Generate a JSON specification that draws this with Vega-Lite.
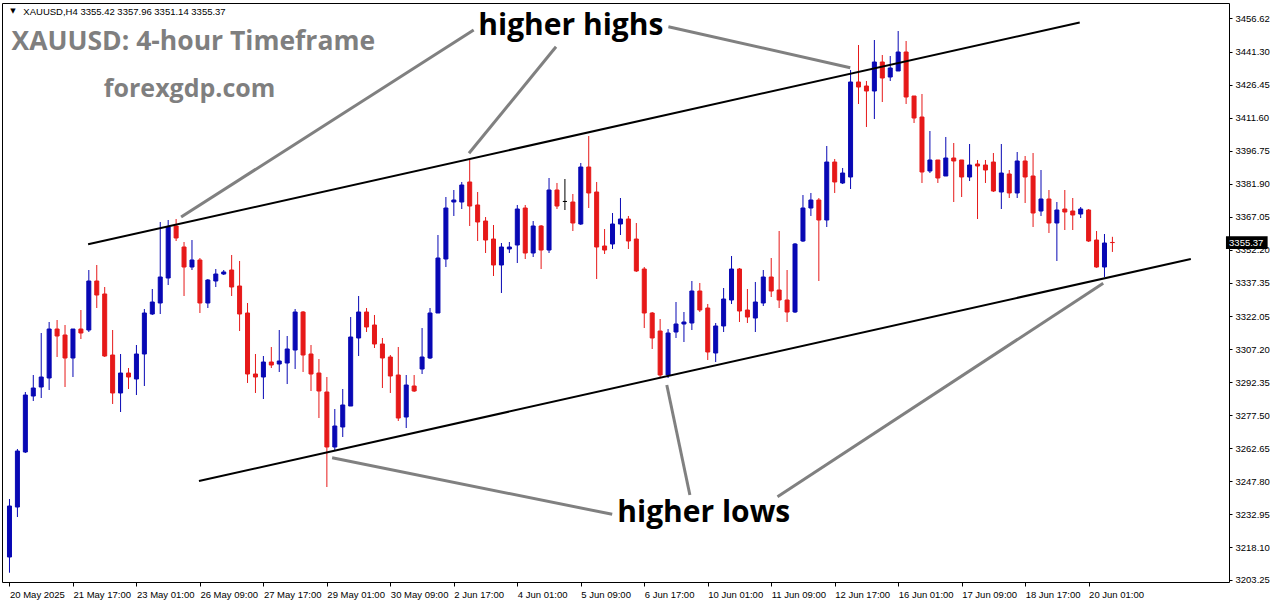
{
"$schema": "https://vega.github.io/schema/vega-lite/v6.json",
"width": 1227, "height": 579,
"autosize": {"type": "none"},
"padding": {"left": 2, "top": 3, "right": 47, "bottom": 22},
"background": "white",
"config": {"view": {"stroke": "#000000", "strokeWidth": 1}, "axis": {"labelOverlap": false, "labelFlush": false}},
"datasets": {
"candles": [
{"i":0,"o":3213.59,"h":3239.74,"l":3206.5,"c":3236.58},
{"i":1,"o":3236.13,"h":3262.29,"l":3231.62,"c":3261.38},
{"i":2,"o":3260.93,"h":3287.99,"l":3260.48,"c":3286.63},
{"i":3,"o":3286.18,"h":3295.65,"l":3283.93,"c":3289.79},
{"i":4,"o":3290.24,"h":3314.59,"l":3285.28,"c":3294.75},
{"i":5,"o":3294.30,"h":3319.55,"l":3288.89,"c":3316.39},
{"i":6,"o":3316.39,"h":3320.45,"l":3303.77,"c":3313.24},
{"i":7,"o":3313.69,"h":3318.20,"l":3290.24,"c":3303.32},
{"i":8,"o":3303.32,"h":3316.39,"l":3294.75,"c":3316.39},
{"i":9,"o":3316.39,"h":3324.96,"l":3311.88,"c":3314.59},
{"i":10,"o":3315.94,"h":3343.00,"l":3315.04,"c":3338.04},
{"i":11,"o":3338.04,"h":3345.25,"l":3325.86,"c":3331.72},
{"i":12,"o":3332.18,"h":3335.33,"l":3303.77,"c":3304.22},
{"i":13,"o":3304.67,"h":3315.94,"l":3282.58,"c":3287.54},
{"i":14,"o":3287.54,"h":3305.12,"l":3278.97,"c":3296.55},
{"i":15,"o":3296.55,"h":3298.81,"l":3289.34,"c":3294.75},
{"i":16,"o":3293.85,"h":3309.18,"l":3286.63,"c":3305.12},
{"i":17,"o":3305.12,"h":3325.41,"l":3290.69,"c":3323.61},
{"i":18,"o":3323.16,"h":3334.43,"l":3322.71,"c":3328.57},
{"i":19,"o":3328.12,"h":3364.64,"l":3323.16,"c":3339.84},
{"i":20,"o":3339.39,"h":3365.54,"l":3336.23,"c":3362.39},
{"i":21,"o":3362.84,"h":3365.99,"l":3356.07,"c":3357.43},
{"i":22,"o":3353.37,"h":3355.62,"l":3331.27,"c":3344.35},
{"i":23,"o":3344.35,"h":3356.52,"l":3343.00,"c":3347.51},
{"i":24,"o":3347.51,"h":3348.41,"l":3323.61,"c":3328.12},
{"i":25,"o":3328.12,"h":3338.94,"l":3325.86,"c":3338.49},
{"i":26,"o":3338.04,"h":3343.45,"l":3335.33,"c":3341.19},
{"i":27,"o":3341.19,"h":3343.00,"l":3340.74,"c":3342.10},
{"i":28,"o":3343.00,"h":3349.76,"l":3331.27,"c":3335.33},
{"i":29,"o":3335.78,"h":3347.06,"l":3315.49,"c":3323.16},
{"i":30,"o":3323.61,"h":3328.12,"l":3292.05,"c":3296.10},
{"i":31,"o":3296.10,"h":3305.12,"l":3287.54,"c":3294.75},
{"i":32,"o":3294.75,"h":3304.22,"l":3284.83,"c":3301.51},
{"i":33,"o":3301.51,"h":3308.28,"l":3298.81,"c":3300.16},
{"i":34,"o":3300.61,"h":3315.94,"l":3297.01,"c":3301.97},
{"i":35,"o":3301.06,"h":3313.24,"l":3291.59,"c":3307.38},
{"i":36,"o":3306.92,"h":3325.41,"l":3298.36,"c":3324.06},
{"i":37,"o":3324.06,"h":3324.51,"l":3297.01,"c":3304.67},
{"i":38,"o":3305.12,"h":3309.18,"l":3288.44,"c":3296.10},
{"i":39,"o":3296.55,"h":3302.87,"l":3276.26,"c":3288.44},
{"i":40,"o":3287.99,"h":3294.75,"l":3245.15,"c":3263.19},
{"i":41,"o":3263.19,"h":3280.32,"l":3261.83,"c":3272.66},
{"i":42,"o":3272.21,"h":3289.34,"l":3267.70,"c":3282.13},
{"i":43,"o":3281.67,"h":3321.80,"l":3281.67,"c":3312.79},
{"i":44,"o":3312.34,"h":3331.27,"l":3304.22,"c":3324.06},
{"i":45,"o":3324.06,"h":3325.86,"l":3315.04,"c":3317.30},
{"i":46,"o":3318.20,"h":3322.71,"l":3307.83,"c":3309.63},
{"i":47,"o":3309.63,"h":3312.34,"l":3289.79,"c":3303.32},
{"i":48,"o":3303.77,"h":3304.67,"l":3287.54,"c":3295.20},
{"i":49,"o":3295.65,"h":3308.28,"l":3274.91,"c":3276.26},
{"i":50,"o":3276.71,"h":3295.65,"l":3271.75,"c":3291.14},
{"i":51,"o":3290.69,"h":3295.65,"l":3287.99,"c":3288.44},
{"i":52,"o":3298.36,"h":3316.84,"l":3296.10,"c":3303.77},
{"i":53,"o":3303.32,"h":3325.86,"l":3302.87,"c":3323.61},
{"i":54,"o":3323.61,"h":3358.78,"l":3323.61,"c":3348.41},
{"i":55,"o":3347.96,"h":3375.91,"l":3344.35,"c":3370.95},
{"i":56,"o":3373.66,"h":3379.07,"l":3367.35,"c":3374.56},
{"i":57,"o":3373.66,"h":3382.68,"l":3370.50,"c":3381.32},
{"i":58,"o":3382.68,"h":3392.60,"l":3362.84,"c":3371.85},
{"i":59,"o":3372.31,"h":3378.17,"l":3356.07,"c":3364.64},
{"i":60,"o":3365.09,"h":3366.89,"l":3350.66,"c":3356.52},
{"i":61,"o":3356.97,"h":3363.29,"l":3340.29,"c":3345.25},
{"i":62,"o":3345.25,"h":3355.17,"l":3332.63,"c":3353.37},
{"i":63,"o":3352.47,"h":3355.62,"l":3350.66,"c":3353.37},
{"i":64,"o":3354.27,"h":3372.31,"l":3346.15,"c":3370.50},
{"i":65,"o":3370.95,"h":3372.31,"l":3347.96,"c":3350.66},
{"i":66,"o":3350.66,"h":3365.09,"l":3348.86,"c":3362.84},
{"i":67,"o":3362.84,"h":3363.29,"l":3343.45,"c":3352.01},
{"i":68,"o":3352.01,"h":3384.48,"l":3350.66,"c":3379.07},
{"i":69,"o":3379.07,"h":3382.23,"l":3370.50,"c":3371.85},
{"i":70,"o":3373.90,"h":3384.03,"l":3370.05,"c":3373.90},
{"i":71,"o":3373.66,"h":3377.27,"l":3360.58,"c":3364.19},
{"i":72,"o":3363.74,"h":3391.24,"l":3363.29,"c":3389.44},
{"i":73,"o":3389.44,"h":3403.42,"l":3370.95,"c":3377.72},
{"i":74,"o":3378.17,"h":3382.68,"l":3338.94,"c":3353.37},
{"i":75,"o":3353.82,"h":3361.48,"l":3350.21,"c":3352.01},
{"i":76,"o":3354.72,"h":3368.70,"l":3352.47,"c":3363.74},
{"i":77,"o":3363.74,"h":3375.46,"l":3358.78,"c":3365.99},
{"i":78,"o":3365.99,"h":3367.35,"l":3352.47,"c":3356.07},
{"i":79,"o":3356.97,"h":3364.19,"l":3342.10,"c":3342.55},
{"i":80,"o":3343.45,"h":3344.35,"l":3316.84,"c":3323.61},
{"i":81,"o":3323.61,"h":3324.06,"l":3307.38,"c":3312.34},
{"i":82,"o":3315.49,"h":3320.90,"l":3294.75,"c":3295.65},
{"i":83,"o":3295.65,"h":3316.39,"l":3294.30,"c":3314.59},
{"i":84,"o":3315.04,"h":3328.57,"l":3312.34,"c":3318.65},
{"i":85,"o":3318.65,"h":3324.06,"l":3310.53,"c":3319.55},
{"i":86,"o":3319.10,"h":3338.04,"l":3315.94,"c":3333.53},
{"i":87,"o":3333.53,"h":3337.14,"l":3324.06,"c":3324.96},
{"i":88,"o":3325.86,"h":3327.67,"l":3302.42,"c":3306.02},
{"i":89,"o":3305.57,"h":3319.10,"l":3301.51,"c":3317.75},
{"i":90,"o":3317.75,"h":3334.88,"l":3315.04,"c":3329.92},
{"i":91,"o":3329.47,"h":3349.31,"l":3327.67,"c":3343.45},
{"i":92,"o":3343.45,"h":3343.90,"l":3319.55,"c":3324.51},
{"i":93,"o":3324.96,"h":3334.43,"l":3319.10,"c":3321.80},
{"i":94,"o":3321.35,"h":3337.59,"l":3315.04,"c":3328.57},
{"i":95,"o":3328.12,"h":3343.00,"l":3326.76,"c":3339.84},
{"i":96,"o":3339.84,"h":3348.41,"l":3330.82,"c":3333.53},
{"i":97,"o":3333.98,"h":3360.58,"l":3325.86,"c":3329.47},
{"i":98,"o":3329.47,"h":3343.00,"l":3319.55,"c":3324.06},
{"i":99,"o":3324.06,"h":3355.17,"l":3323.61,"c":3354.72},
{"i":100,"o":3356.07,"h":3376.81,"l":3355.62,"c":3370.95},
{"i":101,"o":3370.95,"h":3377.72,"l":3367.35,"c":3374.56},
{"i":102,"o":3374.56,"h":3375.46,"l":3338.04,"c":3365.54},
{"i":103,"o":3365.54,"h":3398.91,"l":3362.39,"c":3391.69},
{"i":104,"o":3391.69,"h":3393.05,"l":3377.72,"c":3382.68},
{"i":105,"o":3382.23,"h":3388.99,"l":3381.77,"c":3386.73},
{"i":106,"o":3384.93,"h":3433.18,"l":3379.52,"c":3427.77},
{"i":107,"o":3427.77,"h":3444.45,"l":3417.85,"c":3425.51},
{"i":108,"o":3425.96,"h":3428.22,"l":3407.48,"c":3423.71},
{"i":109,"o":3423.71,"h":3446.70,"l":3411.08,"c":3436.78},
{"i":110,"o":3436.78,"h":3439.94,"l":3418.75,"c":3429.57},
{"i":111,"o":3430.02,"h":3439.49,"l":3428.22,"c":3434.08},
{"i":112,"o":3432.73,"h":3450.76,"l":3432.73,"c":3441.29},
{"i":113,"o":3441.29,"h":3446.25,"l":3417.85,"c":3421.00},
{"i":114,"o":3421.45,"h":3421.45,"l":3409.28,"c":3411.53},
{"i":115,"o":3411.98,"h":3422.36,"l":3382.23,"c":3387.19},
{"i":116,"o":3387.64,"h":3405.67,"l":3386.73,"c":3392.60},
{"i":117,"o":3392.60,"h":3392.60,"l":3382.23,"c":3384.48},
{"i":118,"o":3385.38,"h":3402.97,"l":3385.38,"c":3393.50},
{"i":119,"o":3393.50,"h":3400.26,"l":3373.66,"c":3392.15},
{"i":120,"o":3392.60,"h":3392.60,"l":3375.91,"c":3384.93},
{"i":121,"o":3384.93,"h":3399.81,"l":3383.13,"c":3390.34},
{"i":122,"o":3390.79,"h":3392.60,"l":3365.99,"c":3389.89},
{"i":123,"o":3390.34,"h":3392.60,"l":3382.23,"c":3388.09},
{"i":124,"o":3391.69,"h":3395.75,"l":3378.17,"c":3378.62},
{"i":125,"o":3378.17,"h":3399.81,"l":3370.50,"c":3386.73},
{"i":126,"o":3386.28,"h":3388.09,"l":3375.46,"c":3377.72},
{"i":127,"o":3377.72,"h":3396.20,"l":3375.46,"c":3392.15},
{"i":128,"o":3392.15,"h":3394.40,"l":3373.21,"c":3384.93},
{"i":129,"o":3385.38,"h":3395.75,"l":3362.39,"c":3368.70},
{"i":130,"o":3369.60,"h":3388.09,"l":3367.35,"c":3375.01},
{"i":131,"o":3375.01,"h":3379.07,"l":3359.68,"c":3364.19},
{"i":132,"o":3364.19,"h":3373.66,"l":3347.06,"c":3370.05},
{"i":133,"o":3370.50,"h":3379.07,"l":3361.03,"c":3369.15},
{"i":134,"o":3369.60,"h":3375.46,"l":3361.03,"c":3367.80},
{"i":135,"o":3368.25,"h":3371.40,"l":3366.44,"c":3370.50},
{"i":136,"o":3370.05,"h":3370.50,"l":3355.62,"c":3356.07},
{"i":137,"o":3356.52,"h":3360.58,"l":3344.00,"c":3344.35},
{"i":138,"o":3344.35,"h":3359.23,"l":3339.84,"c":3355.17},
{"i":139,"o":3355.42,"h":3357.96,"l":3351.14,"c":3355.37}
],
"trend": [
{"g":"upper","i":9.91,"p":3354.58},{"g":"upper","i":134.88,"p":3454.64},
{"g":"lower","i":23.88,"p":3247.86},{"g":"lower","i":148.88,"p":3347.96}
],
"arrows": [
{"g":"h1","i":58.5,"p":3451.21},{"g":"h1","i":21.63,"p":3366.89},
{"g":"h2","i":68.88,"p":3443.68},{"g":"h2","i":57.91,"p":3395.62},
{"g":"h3","i":83.04,"p":3452.70},{"g":"h3","i":105.96,"p":3434.21},
{"g":"l1","i":40.66,"p":3258.36},{"g":"l1","i":75.96,"p":3232.84},
{"g":"l2","i":82.84,"p":3291.14},{"g":"l2","i":85.75,"p":3241.54},
{"g":"l3","i":96.79,"p":3240.78},{"g":"l3","i":137.84,"p":3337.00}
]
},
"layer": [
{
"data": {"name": "candles"},
"mark": {"type": "rule", "strokeWidth": 1},
"encoding": {
"x": {"field": "i", "type": "quantitative", "scale": {"domain": [-0.3125, 153.0625], "nice": false, "zero": false},
"axis": {"orient": "bottom", "title": null, "grid": false, "domain": false, "tickCount": 40, "values": [0,8,16,24,32,40,48,56,64,72,80,88,96,104,112,120,128,136],
"labelExpr": "['20 May 2025','21 May 17:00','23 May 01:00','26 May 09:00','27 May 17:00','29 May 01:00','30 May 09:00','2 Jun 17:00','4 Jun 01:00','5 Jun 09:00','6 Jun 17:00','10 Jun 01:00','11 Jun 09:00','12 Jun 17:00','16 Jun 01:00','17 Jun 09:00','18 Jun 17:00','20 Jun 01:00'][floor(datum.value/8)]",
"tickSize": 4, "tickColor": "#000000", "labelAlign": "left", "labelBaseline": "top", "labelPadding": 3, "labelFont": "Liberation Sans", "labelFontSize": 9.5, "labelColor": "#000000", "labelOverlap": false, "labelFlush": false}},
"y": {"field": "l", "type": "quantitative", "scale": {"domain": [3202.32, 3463.39], "nice": false, "zero": false},
"axis": {"orient": "right", "title": null, "grid": false, "domain": false, "tickCount": 40, "values": [3456.62,3441.30,3426.45,3411.60,3396.75,3381.90,3367.05,3352.20,3337.35,3322.05,3307.20,3292.35,3277.50,3262.65,3247.80,3232.95,3218.10,3203.25],
"format": ".2f", "tickSize": 3, "tickColor": "#000000", "labelPadding": 3, "labelFont": "Liberation Sans", "labelFontSize": 9.5, "labelColor": "#000000", "labelOverlap": false, "labelFlush": false, "labelBaseline": "middle", "labelAlign": "left"}},
"y2": {"field": "h"},
"color": {"condition": [{"test": "datum.o == datum.c", "value": "#000000"}, {"test": "datum.c > datum.o", "value": "#0808B4"}], "value": "#E61919"}
}
},
{
"mark": {"type": "rule", "color": "#8c8c8c", "strokeWidth": 1},
"encoding": {
"y": {"datum": 3355.37, "type": "quantitative", "title": null, "scale": {"domain": [3202.32, 3463.39], "nice": false, "zero": false}}
}
},
{
"data": {"name": "candles"},
"mark": {"type": "bar", "size": 4, "strokeWidth": 1, "orient": "vertical"},
"encoding": {
"x": {"field": "i", "type": "quantitative", "title": null, "scale": {"domain": [-0.3125, 153.0625], "nice": false, "zero": false}},
"y": {"field": "o", "type": "quantitative", "title": null, "scale": {"domain": [3202.32, 3463.39], "nice": false, "zero": false}},
"y2": {"field": "c"},
"fill": {"condition": [{"test": "datum.o == datum.c", "value": "#000000"}, {"test": "datum.c > datum.o", "value": "#0808B4"}], "value": "#E61919"},
"stroke": {"condition": [{"test": "datum.o == datum.c", "value": "#000000"}, {"test": "datum.c > datum.o", "value": "#0808B4"}], "value": "#E61919"}
}
},
{
"data": {"name": "trend"},
"mark": {"type": "line", "color": "#000000", "strokeWidth": 2},
"encoding": {
"x": {"field": "i", "type": "quantitative", "title": null, "scale": {"domain": [-0.3125, 153.0625], "nice": false, "zero": false}},
"y": {"field": "p", "type": "quantitative", "title": null, "scale": {"domain": [3202.32, 3463.39], "nice": false, "zero": false}},
"detail": {"field": "g"}
}
},
{
"data": {"name": "arrows"},
"mark": {"type": "line", "color": "#808080", "strokeWidth": 3},
"encoding": {
"x": {"field": "i", "type": "quantitative", "title": null, "scale": {"domain": [-0.3125, 153.0625], "nice": false, "zero": false}},
"y": {"field": "p", "type": "quantitative", "title": null, "scale": {"domain": [3202.32, 3463.39], "nice": false, "zero": false}},
"detail": {"field": "g"}
}
},
{
"data": {"values": [{"t": "higher highs", "i": 70.75, "p": 3449.0}, {"t": "higher lows", "i": 87.5, "p": 3229.5}]},
"mark": {"type": "text", "font": "Open Sans", "fontWeight": "bold", "fontSize": 30, "color": "#000000", "align": "center", "baseline": "alphabetic"},
"encoding": {
"x": {"field": "i", "type": "quantitative", "title": null, "scale": {"domain": [-0.3125, 153.0625], "nice": false, "zero": false}},
"y": {"field": "p", "type": "quantitative", "title": null, "scale": {"domain": [3202.32, 3463.39], "nice": false, "zero": false}},
"text": {"field": "t"}
}
},
{
"data": {"values": [{"t": "XAUUSD: 4-hour Timeframe", "i": 0.25, "p": 3442.19}]},
"mark": {"type": "text", "font": "Open Sans", "fontWeight": "bold", "fontSize": 26.5, "color": "#7f7f7f", "align": "left", "baseline": "alphabetic"},
"encoding": {
"x": {"field": "i", "type": "quantitative", "title": null, "scale": {"domain": [-0.3125, 153.0625], "nice": false, "zero": false}},
"y": {"field": "p", "type": "quantitative", "title": null, "scale": {"domain": [3202.32, 3463.39], "nice": false, "zero": false}},
"text": {"field": "t"}
}
},
{
"data": {"values": [{"t": "forexgdp.com", "i": 22.7, "p": 3421.14}]},
"mark": {"type": "text", "font": "Open Sans", "fontWeight": "bold", "fontSize": 25, "color": "#7f7f7f", "align": "center", "baseline": "alphabetic"},
"encoding": {
"x": {"field": "i", "type": "quantitative", "title": null, "scale": {"domain": [-0.3125, 153.0625], "nice": false, "zero": false}},
"y": {"field": "p", "type": "quantitative", "title": null, "scale": {"domain": [3202.32, 3463.39], "nice": false, "zero": false}},
"text": {"field": "t"}
}
},
{
"data": {"values": [{"t": "XAUUSD,H4  3355.42 3357.96 3351.14 3355.37", "i": 1.75, "p": 3457.98}]},
"mark": {"type": "text", "font": "Liberation Sans", "fontSize": 9.5, "color": "#000000", "align": "left", "baseline": "alphabetic"},
"encoding": {
"x": {"field": "i", "type": "quantitative", "title": null, "scale": {"domain": [-0.3125, 153.0625], "nice": false, "zero": false}},
"y": {"field": "p", "type": "quantitative", "title": null, "scale": {"domain": [3202.32, 3463.39], "nice": false, "zero": false}},
"text": {"field": "t"}
}
},
{
"data": {"values": [{"t": "▼", "i": 0.45, "p": 3460.0}]},
"mark": {"type": "text", "font": "DejaVu Sans", "fontSize": 7, "color": "#000000", "align": "center", "baseline": "middle"},
"encoding": {
"x": {"field": "i", "type": "quantitative", "title": null, "scale": {"domain": [-0.3125, 153.0625], "nice": false, "zero": false}},
"y": {"field": "p", "type": "quantitative", "title": null, "scale": {"domain": [3202.32, 3463.39], "nice": false, "zero": false}},
"text": {"field": "t"}
}
},
{
"data": {"values": [{"price": 3355.37, "i0": 153.31, "i1": 158.56, "p0": 3352.47, "p1": 3358.27}]},
"mark": {"type": "rect", "color": "#000000"},
"encoding": {
"x": {"field": "i0", "type": "quantitative", "title": null, "scale": {"domain": [-0.3125, 153.0625], "nice": false, "zero": false}},
"x2": {"field": "i1"},
"y": {"field": "p0", "type": "quantitative", "title": null, "scale": {"domain": [3202.32, 3463.39], "nice": false, "zero": false}},
"y2": {"field": "p1"}
}
},
{
"data": {"values": [{"price": 3355.37, "i": 153.7}]},
"mark": {"type": "text", "font": "Liberation Sans", "fontSize": 9.5, "color": "#ffffff", "align": "left", "baseline": "middle"},
"encoding": {
"x": {"field": "i", "type": "quantitative", "title": null, "scale": {"domain": [-0.3125, 153.0625], "nice": false, "zero": false}},
"y": {"field": "price", "type": "quantitative", "title": null, "scale": {"domain": [3202.32, 3463.39], "nice": false, "zero": false}},
"text": {"field": "price", "format": ".2f"}
}
}
]
}
